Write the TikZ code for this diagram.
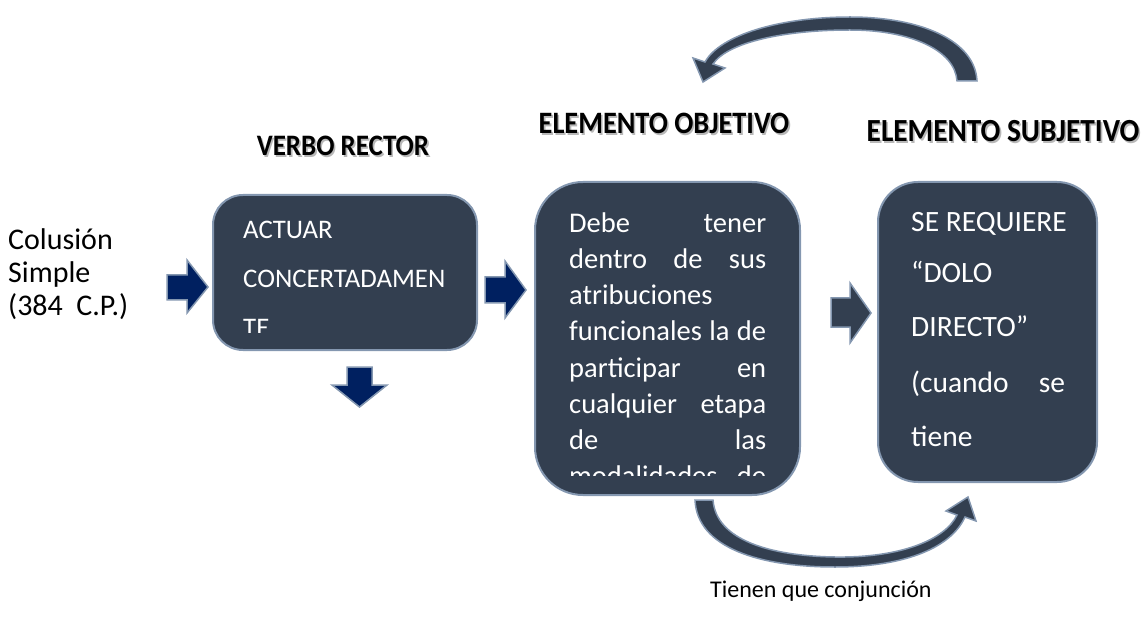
\documentclass[tikz,border=0pt]{standalone}
\usepackage{fontspec}
\setmainfont{Carlito}
\definecolor{slate}{HTML}{333F50}
\definecolor{edge}{HTML}{8497B0}
\definecolor{navy}{HTML}{002060}
\newcommand\shtext[1]{\scalebox{1}[1.1]{\makebox[0pt][l]{\raisebox{-1.6pt}{\hspace*{1.6pt}\textcolor{black!28}{#1}}}#1}}
\begin{document}
\begin{tikzpicture}[x=1pt,y=-1pt,
  box/.style={draw=edge, line width=2pt, fill=slate, rounded corners=#1, inner sep=0pt},
  navyarrow/.style={draw=edge, line width=1.5pt, fill=navy, line join=miter},
  slatearrow/.style={draw=edge, line width=1.5pt, fill=slate, line join=miter},
  wtext/.style={text=white, font=\fontsize{26.8}{26.8}\selectfont, inner sep=0pt, anchor=base west},
  wtextm/.style={text=white, font=\fontsize{28.5}{28.5}\selectfont, inner sep=0pt, anchor=base west},
  wtextb/.style={text=white, font=\fontsize{29.5}{29.5}\selectfont, inner sep=0pt, anchor=base west},
  hd/.style={font=\bfseries\fontsize{#1}{#1}\selectfont, inner sep=0pt, anchor=base},
  lt/.style={font=\fontsize{30}{30}\selectfont, inner sep=0pt, anchor=base west},
  bt/.style={font=\fontsize{24}{24}\selectfont, inner sep=0pt, anchor=base west}]
\useasboundingbox (0,0) rectangle (1143,628);

% boxes
\node[box=30pt, minimum width=264pt, minimum height=155pt] (b1) at (345,272.5) {};
\node[box=48pt, minimum width=265pt, minimum height=313pt] (b2) at (667.5,338.5) {};
\node[box=40pt, minimum width=219pt, minimum height=300pt] (b3) at (987.5,332) {};

% headings
\node[hd=27] (h1) at (343,156) {\shtext{VERBO RECTOR}};
\node[hd=28.3] (h2) at (664,134) {\shtext{ELEMENTO OBJETIVO}};
\node[hd=29.3] (h3) at (1003,142) {\shtext{ELEMENTO SUBJETIVO}};

% left text
\node[lt] (l1) at (8,250) {Colusión};
\node[lt] (l2) at (8,283) {Simple};
\node[lt] (l3) at (8,316) {\makebox[120pt][s]{(384 C.P.)}};

% box 1 text
\node[wtext] (t11) at (243,239) {ACTUAR};
\node[wtext] (t12) at (243,288) {CONCERTADAMEN};
\begin{scope}
  \clip (213,195) rectangle (477,332);
  \node[wtext] (t13) at (243,337) {TE};
\end{scope}

% box 2 text
\begin{scope}
  \clip (535,182) rectangle (800,475);
  \node[wtextm] (t21) at (569,233) {\makebox[197pt][s]{Debe tener}};
  \node[wtextm] (t22) at (569,269) {\makebox[197pt][s]{dentro de sus}};
  \node[wtextm] (t23) at (569,305) {atribuciones};
  \node[wtextm] (t24) at (569,341) {\makebox[197pt][s]{funcionales la de}};
  \node[wtextm] (t25) at (569,377) {\makebox[197pt][s]{participar en}};
  \node[wtextm] (t26) at (569,413) {\makebox[197pt][s]{cualquier etapa}};
  \node[wtextm] (t27) at (569,449) {\makebox[197pt][s]{de las}};
  \node[wtextm] (t28) at (569,485) {\makebox[197pt][s]{modalidades de}};
\end{scope}

% box 3 text
\node[wtextb] (t31) at (911,232) {SE REQUIERE};
\node[wtextb] (t32) at (911,283) {“DOLO};
\node[wtextb] (t33) at (911,337) {DIRECTO”};
\node[wtextb] (t34) at (911,392) {\makebox[154pt][s]{(cuando se}};
\node[wtextb] (t35) at (911,446) {tiene};

% bottom text
\node[bt] (bt1) at (710,597) {Tienen que conjunción};

% straight block arrows
\draw[navyarrow] (167,275) -- (187,275) -- (187,260) -- (208,287) -- (187,313) -- (187,300) -- (167,300) -- cycle;
\draw[navyarrow] (485,277) -- (505,277) -- (505,261) -- (526,290) -- (505,318) -- (505,303) -- (485,303) -- cycle;
\draw[slatearrow] (831,298) -- (850,298) -- (850,283) -- (871,313) -- (850,343) -- (850,327) -- (831,327) -- cycle;
\draw[navyarrow] (347,367) -- (372,367) -- (372,385) -- (387,385) -- (359.5,407) -- (332,385) -- (347,385) -- cycle;

% top curved arrow
\draw[slatearrow] (977,81) .. controls (975,40) and (920,17) .. (850,17)
  .. controls (780,17) and (720,35) .. (705,62)
  -- (693,58) -- (703,82) -- (725,68) -- (713,64)
  .. controls (728,42) and (785,30) .. (850,30)
  .. controls (910,30) and (955,50) .. (957,81) -- cycle;

% bottom curved arrow
\draw[slatearrow] (695,500) -- (713,500)
  .. controls (716,540) and (770,556) .. (835,557)
  .. controls (900,558) and (945,540) .. (957,515)
  -- (946,511) -- (968,497) -- (976,521) -- (965,517)
  .. controls (950,550) and (900,567) .. (835,567)
  .. controls (760,567) and (697,548) .. (695,500) -- cycle;
\end{tikzpicture}
\end{document}
